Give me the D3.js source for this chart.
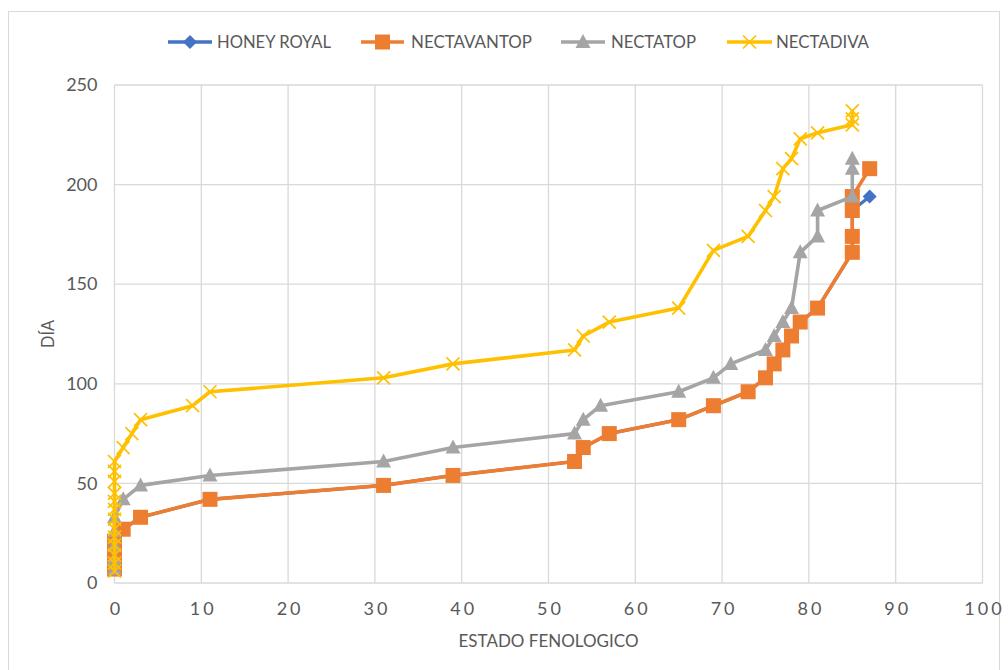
<!DOCTYPE html>
<html>
<head>
<meta charset="utf-8">
<script src="https://cdn.jsdelivr.net/npm/d3@7/dist/d3.min.js"></script>
<style>
  html, body { margin: 0; padding: 0; background: #ffffff; }
  svg { display: block; }
  text { font-family: Lato, "Liberation Sans", Arial, sans-serif; fill: #595959; }
</style>
</head>
<body>
<svg id="chart" width="1008" height="670"></svg>
<script>
// Series: x = estado fenológico, y = día
const seriesNames = ["HONEY ROYAL", "NECTAVANTOP", "NECTATOP", "NECTADIVA"];

const honeyX = [0, 0, 0, 1, 3, 11, 31, 39, 53, 54, 57, 65, 69, 73, 75, 76, 77, 78, 79, 81, 85, 85, 85, 87];
const honeyY = [7, 14, 21, 27, 33, 42, 49, 54, 61, 68, 75, 82, 89, 96, 103, 110, 117, 124, 131, 138, 166, 173, 187, 194];

const nectavantopX = [0, 0, 0, 1, 3, 11, 31, 39, 53, 54, 57, 65, 69, 73, 75, 76, 77, 78, 79, 81, 85, 85, 85, 85, 87];
const nectavantopY = [7, 14, 21, 27, 33, 42, 49, 54, 61, 68, 75, 82, 89, 96, 103, 110, 117, 124, 131, 138, 166, 174, 187, 194, 208];

const nectatopX = [0, 0, 0, 0, 0, 1, 3, 11, 31, 39, 53, 54, 56, 65, 69, 71, 75, 76, 77, 78, 79, 81, 81, 85, 85, 85];
const nectatopY = [7, 12, 19, 26, 33, 42, 49, 54, 61, 68, 75, 82, 89, 96, 103, 110, 117, 124, 131, 138, 166, 174, 187, 194, 208, 213];

const nectadivaX = [0, 0, 0, 0, 0, 0, 0, 0, 0, 0, 0, 0, 0, 1, 2, 3, 9, 11, 31, 39, 53, 54, 57, 65, 69, 73, 75, 76, 77, 78, 79, 81, 85, 85, 85];
const nectadivaY = [6, 10, 14, 19, 23, 27, 32, 37, 41, 45, 51, 56, 61, 68, 75, 82, 89, 96, 103, 110, 117, 124, 131, 138, 167, 174, 187, 194, 208, 213, 223, 226, 230, 233, 237];

const xTicks = [0, 10, 20, 30, 40, 50, 60, 70, 80, 90, 100];
const yTicks = [0, 50, 100, 150, 200, 250];

const xTitle = "ESTADO FENOLOGICO";
const yTitle = "DÍA";

const zip = (xs, ys) => xs.map((x, i) => ({ x, y: ys[i] }));

const series = [
  { name: seriesNames[0], color: "#4472C4", marker: "diamond", data: zip(honeyX, honeyY), width: 3.2 },
  { name: seriesNames[1], color: "#ED7D31", marker: "square", data: zip(nectavantopX, nectavantopY), width: 3.6 },
  { name: seriesNames[2], color: "#A5A5A5", marker: "triangle", data: zip(nectatopX, nectatopY), width: 3.6 },
  { name: seriesNames[3], color: "#FFC000", marker: "x", data: zip(nectadivaX, nectadivaY), width: 3.6 }
];

const svg = d3.select("#chart");
const plot = { left: 114.5, right: 982.5, top: 85, bottom: 583 };

const x = d3.scaleLinear().domain([0, 100]).range([plot.left, plot.right]);
const y = d3.scaleLinear().domain([0, 250]).range([plot.bottom, plot.top]);

// chart area frame
svg.append("rect")
  .attr("x", 8.5).attr("y", 11.5)
  .attr("width", 991).attr("height", 700)
  .attr("fill", "#ffffff")
  .attr("stroke", "#d9d9d9").attr("stroke-width", 1);

// gridlines
const grid = svg.append("g").attr("stroke", "#d9d9d9").attr("stroke-width", 1.3);
xTicks.forEach(t => {
  grid.append("line")
    .attr("x1", x(t)).attr("x2", x(t))
    .attr("y1", plot.top).attr("y2", plot.bottom);
});
yTicks.forEach(t => {
  grid.append("line")
    .attr("x1", plot.left).attr("x2", plot.right)
    .attr("y1", y(t)).attr("y2", y(t));
});

// axes (labels only; lines come from the grid)
const xAxis = svg.append("g")
  .attr("transform", `translate(0,${plot.bottom})`)
  .call(d3.axisBottom(x).tickValues(xTicks).tickSize(0).tickPadding(19).tickFormat(d3.format("d")));
xAxis.select(".domain").remove();
xAxis.selectAll("text")
  .attr("fill", "#666666")
  .style("font-size", "18px")
  .style("letter-spacing", "3px")
  .attr("dx", "1.5px");

const yAxis = svg.append("g")
  .attr("transform", `translate(${plot.left},0)`)
  .call(d3.axisLeft(y).tickValues(yTicks).tickSize(0).tickPadding(17).tickFormat(d3.format("d")));
yAxis.select(".domain").remove();
yAxis.selectAll("text")
  .attr("fill", "#666666")
  .style("font-size", "18px");
svg.selectAll(".tick text").style("font-family", 'Lato, "Liberation Sans", Arial, sans-serif');

// axis titles
svg.append("text")
  .attr("x", (plot.left + plot.right) / 2).attr("y", 647)
  .attr("text-anchor", "middle")
  .attr("textLength", 180).attr("lengthAdjust", "spacingAndGlyphs")
  .style("font-size", "18px")
  .text(xTitle);

svg.append("text")
  .attr("transform", `translate(48,${(plot.top + plot.bottom) / 2}) rotate(-90)`)
  .attr("text-anchor", "middle")
  .attr("dy", "0.35em")
  .attr("textLength", 28).attr("lengthAdjust", "spacingAndGlyphs")
  .style("font-size", "18px")
  .text(yTitle);

// marker drawing
function drawMarker(g, type, color, cx, cy) {
  if (type === "square") {
    g.append("rect")
      .attr("x", cx - 7.5).attr("y", cy - 7.5)
      .attr("width", 15).attr("height", 15)
      .attr("fill", color);
  } else if (type === "triangle") {
    g.append("path")
      .attr("d", `M${cx},${cy - 8}L${cx + 7.5},${cy + 6}L${cx - 7.5},${cy + 6}Z`)
      .attr("fill", color);
  } else if (type === "diamond") {
    g.append("path")
      .attr("d", `M${cx},${cy - 7}L${cx + 7},${cy}L${cx},${cy + 7}L${cx - 7},${cy}Z`)
      .attr("fill", color);
  } else if (type === "x") {
    const s = 6.5;
    g.append("path")
      .attr("d", `M${cx - s},${cy - s}L${cx + s},${cy + s}M${cx - s},${cy + s}L${cx + s},${cy - s}`)
      .attr("stroke", color).attr("stroke-width", 1.7).attr("fill", "none");
  }
}

const line = d3.line().x(d => x(d.x)).y(d => y(d.y));

series.forEach(s => {
  const g = svg.append("g");
  g.append("path")
    .datum(s.data)
    .attr("d", line)
    .attr("fill", "none")
    .attr("stroke", s.color)
    .attr("stroke-width", s.width)
    .attr("stroke-linejoin", "round")
    .attr("stroke-linecap", "round");
  s.data.forEach(d => drawMarker(g, s.marker, s.color, x(d.x), y(d.y)));
});

// legend
const legendY = 42;
const legendItems = [
  { x1: 168, x2: 212, tx: 217, tw: 114 },
  { x1: 361, x2: 404, tx: 411, tw: 121 },
  { x1: 561, x2: 605, tx: 611, tw: 85 },
  { x1: 727, x2: 772, tx: 776, tw: 93 }
];
series.forEach((s, i) => {
  const it = legendItems[i];
  const g = svg.append("g");
  g.append("line")
    .attr("x1", it.x1).attr("x2", it.x2)
    .attr("y1", legendY).attr("y2", legendY)
    .attr("stroke", s.color).attr("stroke-width", 3.6);
  drawMarker(g, s.marker, s.color, (it.x1 + it.x2) / 2, legendY);
  g.append("text")
    .attr("x", it.tx).attr("y", legendY)
    .attr("dy", "0.36em")
    .attr("textLength", it.tw).attr("lengthAdjust", "spacingAndGlyphs")
    .style("font-size", "17px")
    .text(s.name);
});
</script>
</body>
</html>
